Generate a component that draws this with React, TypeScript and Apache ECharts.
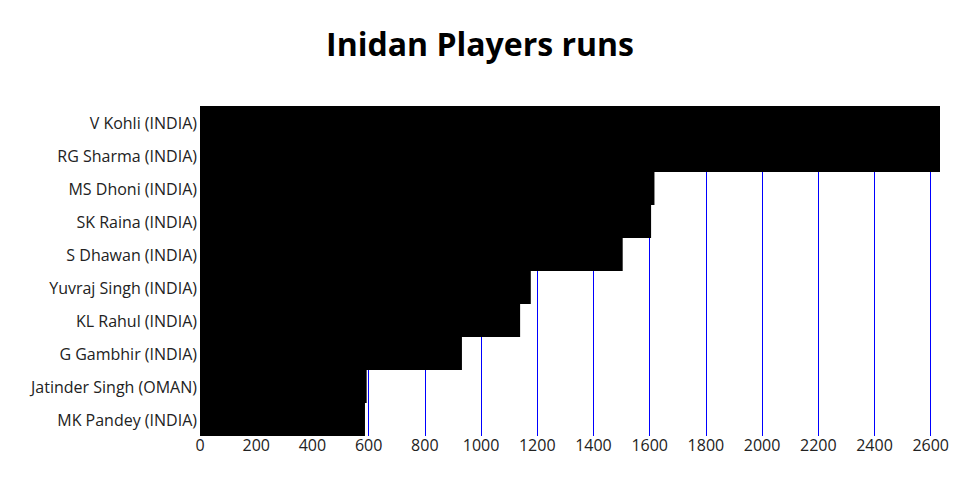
import React, { useEffect, useRef } from "react";
import * as echarts from "echarts";

const players = [
  "V Kohli (INDIA)",
  "RG Sharma (INDIA)",
  "MS Dhoni (INDIA)",
  "SK Raina (INDIA)",
  "S Dhawan (INDIA)",
  "Yuvraj Singh (INDIA)",
  "KL Rahul (INDIA)",
  "G Gambhir (INDIA)",
  "Jatinder Singh (OMAN)",
  "MK Pandey (INDIA)",
];
const runs = [2633, 2633, 1617, 1605, 1504, 1177, 1139, 932, 593, 587];

export default function App() {
  const ref = useRef<HTMLDivElement>(null);
  useEffect(() => {
    document.body.style.margin = "0";
    const chart = echarts.init(ref.current!, null, { renderer: "svg" });
    chart.setOption({
      animation: false,
      textStyle: { fontFamily: "Open Sans" },
      title: {
        text: "Inidan Players runs",
        left: "center",
        top: 22,
        textStyle: { fontFamily: "Open Sans", fontWeight: "bold", fontSize: 32, color: "#000" },
      },
      grid: { left: 200, right: 20, top: 106, bottom: 64, containLabel: false },
      xAxis: {
        type: "value",
        min: 0,
        max: "dataMax",
        interval: 200,
        axisLine: { show: false },
        axisTick: { show: false },
        axisLabel: {
          showMaxLabel: false,
          color: "#222",
          fontSize: 16,
          margin: 1,
          fontFamily: "Open Sans",
          formatter: (v: number) => String(v),
        },
        splitLine: { show: true, showMaxLine: false, lineStyle: { color: "#0000ff", width: 1 } },
      },
      yAxis: {
        type: "category",
        data: players,
        inverse: true,
        axisLine: { show: false },
        axisTick: { show: false },
        splitLine: { show: false },
        splitArea: { show: false },
        axisLabel: { color: "#222", fontSize: 16, margin: 3, fontFamily: "Open Sans" },
      },
      series: [
        {
          type: "bar",
          data: runs,
          barCategoryGap: "0%",
          itemStyle: { color: "#000" },
        },
      ],
    });
    return () => chart.dispose();
  }, []);
  return <div ref={ref} style={{ width: 960, height: 500 }} />;
}
